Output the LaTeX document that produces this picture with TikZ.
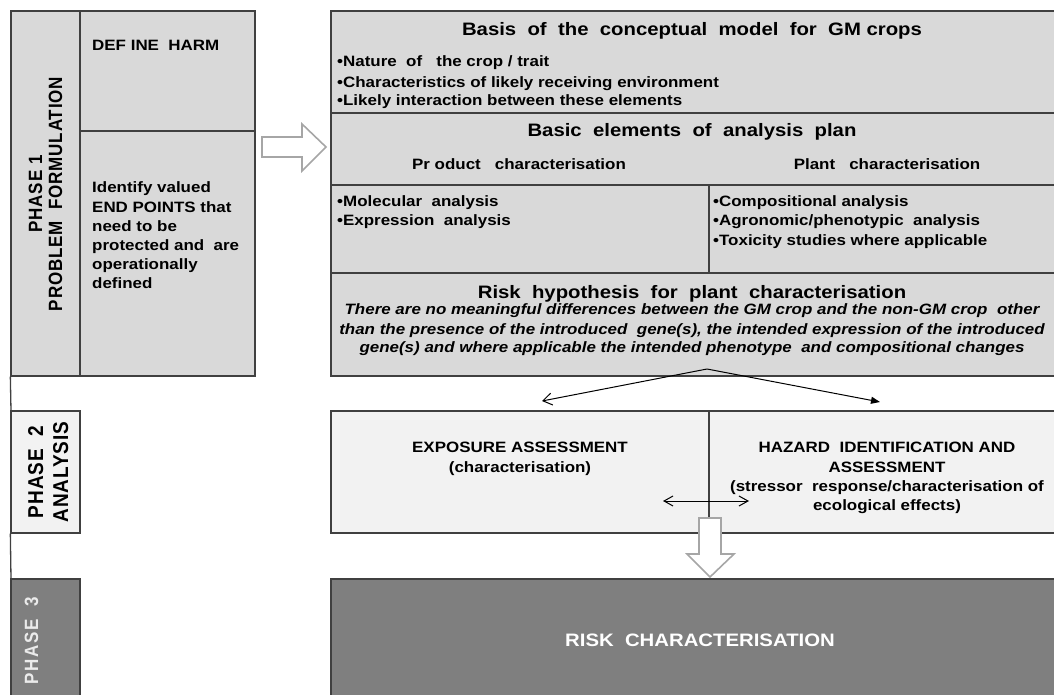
\documentclass[tikz,border=0pt]{standalone}
\usepackage{fontspec}
\setmainfont{Liberation Sans}[FakeStretch=1.13]
\newfontfamily\phfont{Liberation Sans}[LetterSpace=5]
\newfontfamily\phwide{Liberation Sans}[LetterSpace=10]
\usetikzlibrary{arrows.meta,fit}
\definecolor{lg}{HTML}{D9D9D9}
\definecolor{vlg}{HTML}{F2F2F2}
\definecolor{dg}{HTML}{7F7F7F}
\definecolor{ln}{HTML}{404040}
\definecolor{arrg}{HTML}{A6A6A6}
\newcommand{\tall}[1]{\scalebox{1}[1.13]{#1}}
\tikzset{
  cellbox/.style={draw=ln, line width=1.3pt, inner sep=0pt, fill=lg},
  txt/.style={inner sep=0pt, font=\fontsize{15}{18}\selectfont\bfseries},
  ttl/.style={inner sep=0pt, font=\fontsize{18}{22}\selectfont\bfseries},
  itl/.style={inner sep=0pt, font=\fontsize{15}{19}\selectfont\bfseries\itshape},
  phlabel/.style={inner sep=0pt, rotate=90, anchor=base},
  blockarrow/.style={draw=arrg, line width=1.6pt, fill=white, line join=miter},
  thinarrow/.style={draw=black, line width=1pt}
}
\begin{document}
\begin{tikzpicture}[x=1pt,y=-1pt]
\useasboundingbox (0,0) rectangle (1054,695);
\clip (0,0) rectangle (1054,695);
\fill[white] (0,0) rectangle (1054,695);

% ---------- Phase 1 ----------
\node[cellbox, fit={(11,11) (80,376)}] (p1) {};
\node[cellbox, fit={(80,11) (255,131)}] (harm) {};
\node[cellbox, fit={(80,131) (255,376)}] (endp) {};

\node[phlabel, font=\fontsize{17}{20}\phfont\bfseries] (p1a) at (42,194) {\tall{PHASE 1}};
\node[phlabel, font=\fontsize{17}{20}\phfont\bfseries] (p1b) at (62,194) {\tall{PROBLEM\ \ FORMULATION}};

\node[txt, anchor=base west] (harmt) at (92,50.7) {DEF INE\ \ HARM};
\node[txt, anchor=base west] (e1) at (92,192.7) {Identify valued};
\node[txt, anchor=base west] (e2) at (92,212) {END POINTS that};
\node[txt, anchor=base west] (e3) at (92,231) {need to be};
\node[txt, anchor=base west] (e4) at (92,250) {protected and\ \ are};
\node[txt, anchor=base west] (e5) at (92,269.3) {operationally};
\node[txt, anchor=base west] (e6) at (92,288.5) {defined};

% right block
\node[cellbox, fit={(331,11) (1064,113)}] (basis) {};
\node[cellbox, fit={(331,113) (1064,185)}] (basic) {};
\node[cellbox, fit={(331,185) (709,273)}] (prod) {};
\node[cellbox, fit={(709,185) (1064,273)}] (plant) {};
\node[cellbox, fit={(331,273) (1064,376)}] (risk) {};

\node[ttl, anchor=base] (t1) at (692,36) {Basis\ \ of\ \ the\ \ conceptual\ \ model\ \ for\ \ GM crops};
\node[txt, anchor=base west] (b1) at (337,66.7) {•Nature\ \ of\ \ \ the crop / trait};
\node[txt, anchor=base west] (b2) at (337,87.3) {•Characteristics of likely receiving environment};
\node[txt, anchor=base west] (b3) at (337,106) {•Likely interaction between these elements};

\node[ttl, anchor=base] (t2) at (692,137) {Basic\ \ elements\ \ of\ \ analysis\ \ plan};
\node[txt, anchor=base] (pc) at (519,169.5) {Pr oduct\ \ \ characterisation};
\node[txt, anchor=base] (plc) at (887,169.5) {Plant\ \ \ characterisation};

\node[txt, anchor=base west] (m1) at (337,206.7) {•Molecular\ \ analysis};
\node[txt, anchor=base west] (m2) at (337,225.7) {•Expression\ \ analysis};
\node[txt, anchor=base west] (c1) at (713,206.7) {•Compositional analysis};
\node[txt, anchor=base west] (c2) at (713,225.7) {•Agronomic/phenotypic\ \ analysis};
\node[txt, anchor=base west] (c3) at (713,245) {•Toxicity studies where applicable};

\node[ttl, anchor=base] (t3) at (692,298) {Risk\ \ hypothesis\ \ for\ \ plant\ \ characterisation};
\node[itl, anchor=base] (r1) at (692,314.3) {There are no meaningful differences between the GM crop and the non-GM crop\ \ other};
\node[itl, anchor=base] (r2) at (692,334) {than the presence of the introduced\ \ gene(s), the intended expression of the introduced};
\node[itl, anchor=base] (r3) at (692,352.7) {gene(s) and where applicable the intended phenotype\ \ and compositional changes};

% block arrow phase 1 -> right
\draw[blockarrow] (262,137) -- (302,137) -- (302,124) -- (326,147) -- (302,171) -- (302,157) -- (262,157) -- cycle;

% ---------- Phase 2 ----------
\draw[draw=ln, line width=1.3pt] (p1.south west) -- (11,411);
\node[cellbox, fill=vlg, fit={(11,411) (80,533)}] (p2) {};
\node[phlabel, font=\fontsize{19}{22}\phfont\bfseries] (p2a) at (43,472) {\tall{PHASE\ \ 2}};
\node[phlabel, font=\fontsize{19}{22}\phfont\bfseries] (p2b) at (68,472) {\tall{ANALYSIS}};

\node[cellbox, fill=vlg, fit={(331,411) (1064,533)}] (ph2) {};
\coordinate (split top) at (709,411);
\coordinate (split bot) at (709,518);
\draw[draw=ln, line width=1.3pt] (split top) -- (split bot);

\node[txt, anchor=base] (ex1) at (520,452.7) {EXPOSURE ASSESSMENT};
\node[txt, anchor=base] (ex2) at (520,472.3) {(characterisation)};
\node[txt, anchor=base] (hz1) at (887,452.7) {HAZARD\ \ IDENTIFICATION AND};
\node[txt, anchor=base] (hz2) at (887,472.3) {ASSESSMENT};
\node[txt, anchor=base] (hz3) at (887,491) {(stressor\ \ response/characterisation of};
\node[txt, anchor=base] (hz4) at (887,510.5) {ecological effects)};

% arrows from risk hypothesis
\coordinate (apex) at (707,369);
\coordinate (expotip) at (542,401);
\coordinate (haztip) at (880,402);
\draw[thinarrow, -{Straight Barb[length=9pt,width=12pt]}] (apex) -- (expotip);
\draw[thinarrow, -{Triangle[length=9pt,width=7pt]}] (apex) -- (haztip);

% double arrow
\coordinate (da1) at (663,501);
\coordinate (da2) at (749,501);
\draw[thinarrow, {Straight Barb[length=9pt,width=10pt]}-{Straight Barb[length=9pt,width=10pt]}] (da1) -- (da2);

% ---------- Phase 3 ----------
\draw[draw=ln, line width=1.3pt] (p2.south west) -- (11,579);
\node[cellbox, fill=dg, fit={(11,579) (80,700)}] (p3) {};
\node[phlabel, text=white!92!black, font=\fontsize{17}{20}\phwide\bfseries] (p3a) at (38,641) {\tall{PHASE\ \ 3}};

\node[cellbox, fill=dg, fit={(331,579) (1064,700)}] (ph3) {};
\node[inner sep=0pt, anchor=base, text=white, font=\fontsize{18}{22}\selectfont\bfseries] (rc) at (700,646) {RISK\ \ CHARACTERISATION};

% block arrow phase 2 -> phase 3
\draw[blockarrow] (699,518) -- (721,518) -- (721,554) -- (734,554) -- (710,577) -- (687,554) -- (699,554) -- cycle;
\end{tikzpicture}
\end{document}
